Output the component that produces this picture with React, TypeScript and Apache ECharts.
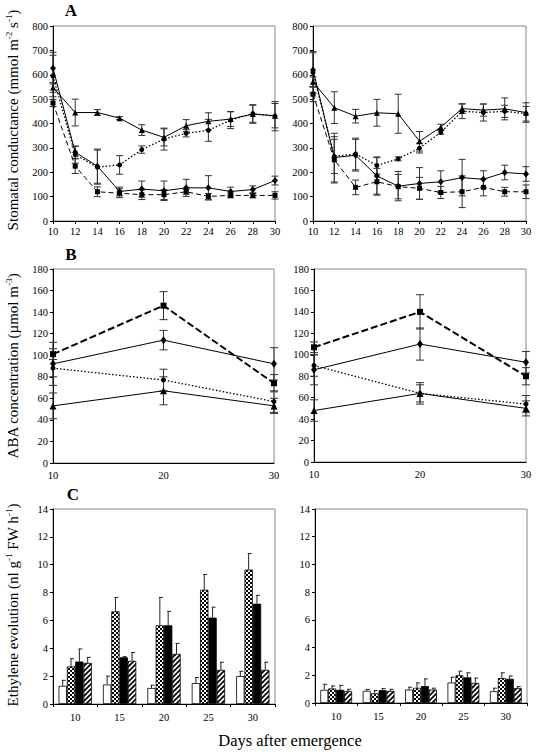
import React, { useEffect, useRef } from 'react';
import * as echarts from 'echarts';

const FONT = "'Liberation Serif', 'Times New Roman', serif";

// ---------- Panel A: stomatal conductance ----------
const daysA = [10, 12, 14, 16, 18, 20, 22, 24, 26, 28, 30];
const aLeftTri = [548, 445, 445, 422, 373, 343, 391, 409, 418, 439, 432];
const aLeftTriErr = [20, 55, 12, 6, 22, 35, 25, 35, 30, 38, 50];
const aLeftDot = [595, 272, 221, 230, 293, 336, 360, 372, 414, 440, 430];
const aLeftDotErr = [85, 35, 70, 38, 15, 45, 15, 45, 35, 35, 60];
const aLeftDmd = [627, 282, 225, 121, 131, 124, 136, 136, 121, 129, 166];
const aLeftDmdErr = [65, 25, 70, 18, 33, 40, 35, 50, 18, 15, 18];
const aLeftSq = [484, 225, 120, 114, 108, 108, 120, 101, 105, 105, 105];
const aLeftSqErr = [15, 30, 20, 18, 20, 20, 10, 12, 10, 10, 15];

const aRightTri = [571, 465, 430, 444, 440, 327, 385, 461, 455, 460, 445];
const aRightTriErr = [20, 65, 28, 55, 80, 40, 12, 20, 25, 45, 40];
const aRightDot = [610, 265, 275, 228, 255, 299, 364, 450, 445, 450, 440];
const aRightDotErr = [85, 70, 65, 35, 8, 20, 8, 30, 35, 25, 30];
const aRightDmd = [620, 260, 270, 185, 143, 154, 161, 178, 171, 199, 193];
const aRightDmdErr = [70, 100, 65, 75, 60, 65, 45, 75, 35, 30, 30];
const aRightSq = [520, 251, 138, 161, 141, 134, 117, 120, 138, 120, 120];
const aRightSqErr = [30, 95, 30, 55, 50, 45, 25, 65, 35, 18, 28];

// ---------- Panel B: ABA concentration ----------
const daysB = [10, 20, 30];
const bLeftSq = [101, 146, 74];
const bLeftSqErr = [5, 13, 8];
const bLeftDmd = [92, 114, 92];
const bLeftDmdErr = [20, 9, 15];
const bLeftDot = [88, 77, 57];
const bLeftDotErr = [8, 10, 10];
const bLeftTri = [53, 67, 53];
const bLeftTriErr = [12, 13, 7];

const bRightSq = [107, 140, 80];
const bRightSqErr = [5, 16, 8];
const bRightDmd = [86, 110, 93];
const bRightDmdErr = [14, 15, 10];
const bRightDot = [90, 64, 54];
const bRightDotErr = [10, 8, 8];
const bRightTri = [48, 64, 50];
const bRightTriErr = [10, 10, 7];

// ---------- Panel C: ethylene evolution ----------
const catsC = ['10', '15', '20', '25', '30'];
const cLeftWhite = [1.3, 1.4, 1.15, 1.5, 2.0];
const cLeftWhiteErr = [0.4, 0.6, 0.2, 0.4, 0.35];
const cLeftCheck = [2.7, 6.65, 5.65, 8.2, 9.65];
const cLeftCheckErr = [0.55, 1.0, 2.0, 1.1, 1.15];
const cLeftBlack = [3.05, 3.35, 5.65, 6.2, 7.2];
const cLeftBlackErr = [0.9, 0.05, 1.0, 0.75, 0.6];
const cLeftHatch = [2.95, 3.1, 3.6, 2.45, 2.45];
const cLeftHatchErr = [0.4, 0.6, 0.75, 0.55, 0.55];

const cRightWhite = [0.95, 0.88, 0.97, 1.48, 0.85];
const cRightWhiteErr = [0.4, 0.1, 0.17, 0.38, 0.22];
const cRightCheck = [1.05, 0.7, 1.1, 2.0, 1.8];
const cRightCheckErr = [0.18, 0.2, 0.35, 0.3, 0.38];
const cRightBlack = [0.95, 0.93, 1.22, 1.85, 1.75];
const cRightBlackErr = [0.32, 0.12, 0.52, 0.33, 0.2];
const cRightHatch = [0.87, 0.87, 0.97, 1.45, 1.08];
const cRightHatchErr = [0.12, 0.12, 0.1, 0.35, 0.1];

const zip2 = (xs: number[], ys: number[]) => xs.map((x, i) => [x, ys[i]]);
const zip3 = (xs: number[], ys: number[], es: number[]) => xs.map((x, i) => [x, ys[i], es[i]]);

function makeChecker() {
  const c = document.createElement('canvas');
  c.width = 4; c.height = 4;
  const g = c.getContext('2d')!;
  g.fillStyle = '#fff'; g.fillRect(0, 0, 4, 4);
  g.fillStyle = '#000'; g.fillRect(0, 0, 2, 2); g.fillRect(2, 2, 2, 2);
  return c.toDataURL();
}
function makeHatch() {
  const s = 5;
  const c = document.createElement('canvas');
  c.width = s; c.height = s;
  const g = c.getContext('2d')!;
  g.fillStyle = '#fff'; g.fillRect(0, 0, s, s);
  g.strokeStyle = '#000'; g.lineWidth = 1.8;
  g.beginPath();
  g.moveTo(-1, s + 1); g.lineTo(s + 1, -1);
  g.moveTo(-1, 1); g.lineTo(1, -1);
  g.moveTo(s - 1, s + 1); g.lineTo(s + 1, s - 1);
  g.stroke();
  return c.toDataURL();
}

const errLine = (cap: number) => (_p: any, api: any) => {
  const x = api.value(0), y = api.value(1), e = api.value(2);
  const hi = api.coord([x, y + e]);
  const lo = api.coord([x, Math.max(0, y - e)]);
  const st = { stroke: '#333', lineWidth: 1 };
  return {
    type: 'group',
    children: [
      { type: 'line', shape: { x1: hi[0], y1: hi[1], x2: lo[0], y2: lo[1] }, style: st },
      { type: 'line', shape: { x1: hi[0] - cap, y1: hi[1], x2: hi[0] + cap, y2: hi[1] }, style: st },
      { type: 'line', shape: { x1: lo[0] - cap, y1: lo[1], x2: lo[0] + cap, y2: lo[1] }, style: st },
    ],
  };
};

const errBar = (_p: any, api: any) => {
  const ci = api.value(0), v = api.value(1), e = api.value(2), k = api.value(3);
  const band = api.size([1, 0])[0];
  const w = (band * 0.75) / 4;
  const base = api.coord([ci, v]);
  const top = api.coord([ci, v + e]);
  const cx = base[0] + (k - 1.5) * w;
  const st = { stroke: '#222', lineWidth: 1 };
  return {
    type: 'group',
    children: [
      { type: 'line', shape: { x1: cx, y1: base[1], x2: cx, y2: top[1] }, style: st },
      { type: 'line', shape: { x1: cx - 1, y1: top[1], x2: cx + 3, y2: top[1] }, style: st },
    ],
  };
};

export default function App() {
  const ref = useRef<HTMLDivElement>(null);

  useEffect(() => {
    if (!ref.current) return;
    const chart = echarts.init(ref.current, undefined, { renderer: 'svg' });
    const checker = { image: makeChecker(), repeat: 'repeat', imageWidth: 4, imageHeight: 4 };
    const hatch = { image: makeHatch(), repeat: 'repeat', imageWidth: 5, imageHeight: 5 };

    const grids = [
      { left: 53, top: 26, width: 222, height: 195 },
      { left: 313, top: 26, width: 213, height: 195 },
      { left: 53, top: 269, width: 221, height: 194 },
      { left: 314, top: 269, width: 212, height: 193 },
      { left: 53, top: 509, width: 222, height: 195 },
      { left: 315, top: 509, width: 212, height: 194 },
    ].map((g) => ({ ...g, show: true, borderColor: '#888', borderWidth: 1, containLabel: false }));

    const lbl = (margin: number) => ({ color: '#000', fontFamily: FONT, fontSize: 10.5, margin });
    const axLine = { show: true, lineStyle: { color: '#000', width: 1 } };

    const xAxes: any[] = [];
    const yAxes: any[] = [];
    [0, 1].forEach((i) => {
      xAxes.push({
        type: 'value', gridIndex: i, min: 10, max: 30, interval: 2,
        axisLine: { ...axLine, onZero: false }, axisTick: { show: true, length: 3, lineStyle: { color: '#000' } },
        axisLabel: lbl(5), splitLine: { show: false },
      });
      yAxes.push({
        type: 'value', gridIndex: i, min: 0, max: 800, interval: 100,
        axisLine: axLine, axisTick: { show: true, length: 3, lineStyle: { color: '#000' } },
        axisLabel: lbl(5), splitLine: { show: false },
      });
    });
    [2, 3].forEach((i) => {
      xAxes.push({
        type: 'value', gridIndex: i, min: 10, max: 30, interval: 10,
        axisLine: { ...axLine, onZero: false }, axisTick: { show: false },
        axisLabel: lbl(7), splitLine: { show: false },
      });
      yAxes.push({
        type: 'value', gridIndex: i, min: 0, max: 180, interval: 20,
        axisLine: axLine, axisTick: { show: true, length: 3, lineStyle: { color: '#000' } },
        axisLabel: lbl(5), splitLine: { show: false },
      });
    });
    [4, 5].forEach((i) => {
      xAxes.push({
        type: 'category', gridIndex: i, data: catsC,
        axisLine: { ...axLine, onZero: false }, axisTick: { show: true, length: 3, lineStyle: { color: '#000' } },
        axisLabel: lbl(8), splitLine: { show: false },
      });
      yAxes.push({
        type: 'value', gridIndex: i, min: 0, max: 14, interval: 2,
        axisLine: axLine, axisTick: { show: true, length: 3, lineStyle: { color: '#000' } },
        axisLabel: lbl(5), splitLine: { show: false },
      });
    });

    const series: any[] = [];
    const addLine = (idx: number, xs: number[], ys: number[], es: number[], symbol: string, size: any, ls: any, cap: number) => {
      series.push({
        type: 'custom', xAxisIndex: idx, yAxisIndex: idx, data: zip3(xs, ys, es),
        renderItem: errLine(cap), z: 2, silent: true,
      });
      series.push({
        type: 'line', xAxisIndex: idx, yAxisIndex: idx, data: zip2(xs, ys),
        symbol, symbolSize: size, showSymbol: true,
        itemStyle: { color: '#000', borderWidth: 0 },
        lineStyle: { color: '#000', width: 1, ...ls }, z: 3, silent: true,
      });
    };

    const dotted = { type: [1.5, 2], width: 1.3 };
    const dashedA = { type: [5, 3], width: 1 };
    const dashedB = { type: [7, 3], width: 2 };

    addLine(0, daysA, aLeftTri, aLeftTriErr, 'triangle', 6, {}, 3.5);
    addLine(0, daysA, aLeftDot, aLeftDotErr, 'circle', 5, dotted, 3.5);
    addLine(0, daysA, aLeftDmd, aLeftDmdErr, 'diamond', [6, 7], {}, 3.5);
    addLine(0, daysA, aLeftSq, aLeftSqErr, 'rect', 5, dashedA, 3.5);

    addLine(1, daysA, aRightTri, aRightTriErr, 'triangle', 6, {}, 3.5);
    addLine(1, daysA, aRightDot, aRightDotErr, 'circle', 5, dotted, 3.5);
    addLine(1, daysA, aRightDmd, aRightDmdErr, 'diamond', [6, 7], {}, 3.5);
    addLine(1, daysA, aRightSq, aRightSqErr, 'rect', 5, dashedA, 3.5);

    addLine(2, daysB, bLeftSq, bLeftSqErr, 'rect', 6, dashedB, 4);
    addLine(2, daysB, bLeftDmd, bLeftDmdErr, 'diamond', [6, 8], {}, 4);
    addLine(2, daysB, bLeftDot, bLeftDotErr, 'circle', 5, dotted, 4);
    addLine(2, daysB, bLeftTri, bLeftTriErr, 'triangle', 7, {}, 4);

    addLine(3, daysB, bRightSq, bRightSqErr, 'rect', 6, dashedB, 4);
    addLine(3, daysB, bRightDmd, bRightDmdErr, 'diamond', [6, 8], {}, 4);
    addLine(3, daysB, bRightDot, bRightDotErr, 'circle', 5, dotted, 4);
    addLine(3, daysB, bRightTri, bRightTriErr, 'triangle', 7, {}, 4);

    const addBars = (idx: number, groups: { vals: number[]; errs: number[]; color: any }[]) => {
      groups.forEach((g) => {
        series.push({
          type: 'bar', xAxisIndex: idx, yAxisIndex: idx, data: g.vals,
          barGap: '0%', barCategoryGap: '25%',
          itemStyle: { color: g.color, borderColor: '#000', borderWidth: 0.8 }, silent: true, z: 2,
        });
      });
      const errData: number[][] = [];
      groups.forEach((g, k) => g.vals.forEach((v, ci) => errData.push([ci, v, g.errs[ci], k])));
      series.push({
        type: 'custom', xAxisIndex: idx, yAxisIndex: idx, data: errData,
        renderItem: errBar, z: 3, silent: true,
      });
    };

    addBars(4, [
      { vals: cLeftWhite, errs: cLeftWhiteErr, color: '#fff' },
      { vals: cLeftCheck, errs: cLeftCheckErr, color: checker },
      { vals: cLeftBlack, errs: cLeftBlackErr, color: '#000' },
      { vals: cLeftHatch, errs: cLeftHatchErr, color: hatch },
    ]);
    addBars(5, [
      { vals: cRightWhite, errs: cRightWhiteErr, color: '#fff' },
      { vals: cRightCheck, errs: cRightCheckErr, color: checker },
      { vals: cRightBlack, errs: cRightBlackErr, color: '#000' },
      { vals: cRightHatch, errs: cRightHatchErr, color: hatch },
    ]);

    const titleRich = {
      a: { fontFamily: FONT, fontSize: 15, color: '#000', lineHeight: 18 },
      s: { fontFamily: FONT, fontSize: 9, color: '#000', verticalAlign: 'top', lineHeight: 18 },
    };
    const yTitle = (text: string, x: number, y: number) => ({
      type: 'text', x, y, rotation: Math.PI / 2,
      style: { text, rich: titleRich, align: 'center', verticalAlign: 'middle', fontFamily: FONT, fontSize: 15 },
    });
    const letter = (t: string, x: number, y: number) => ({
      type: 'text', x, y,
      style: { text: t, fontFamily: FONT, fontSize: 17, fontWeight: 'bold', fill: '#000', align: 'center', verticalAlign: 'middle' },
    });

    chart.setOption({
      animation: false,
      backgroundColor: '#fff',
      grid: grids,
      xAxis: xAxes,
      yAxis: yAxes,
      series,
      graphic: [
        letter('A', 71, 10),
        letter('B', 71, 254),
        letter('C', 73, 494),
        yTitle('{a|Stomatal conductance (mmol m}{s|-2}{a| s}{s|-1}{a|)}', 13, 120),
        yTitle('{a|ABA concentration (µmol m}{s|-3}{a|)}', 13, 366),
        yTitle('{a|Ethylene evolution (nl g}{s|-1}{a| FW h}{s|-1}{a|)}', 13, 605),
        {
          type: 'text', x: 290, y: 740,
          style: { text: 'Days after emergence', fontFamily: FONT, fontSize: 16.5, fill: '#000', align: 'center', verticalAlign: 'middle' },
        },
      ],
    });
    return () => chart.dispose();
  }, []);

  return (
    <div
      ref={ref}
      style={{ position: 'absolute', left: 0, top: 0, width: 536, height: 752, background: '#fff' }}
    />
  );
}
